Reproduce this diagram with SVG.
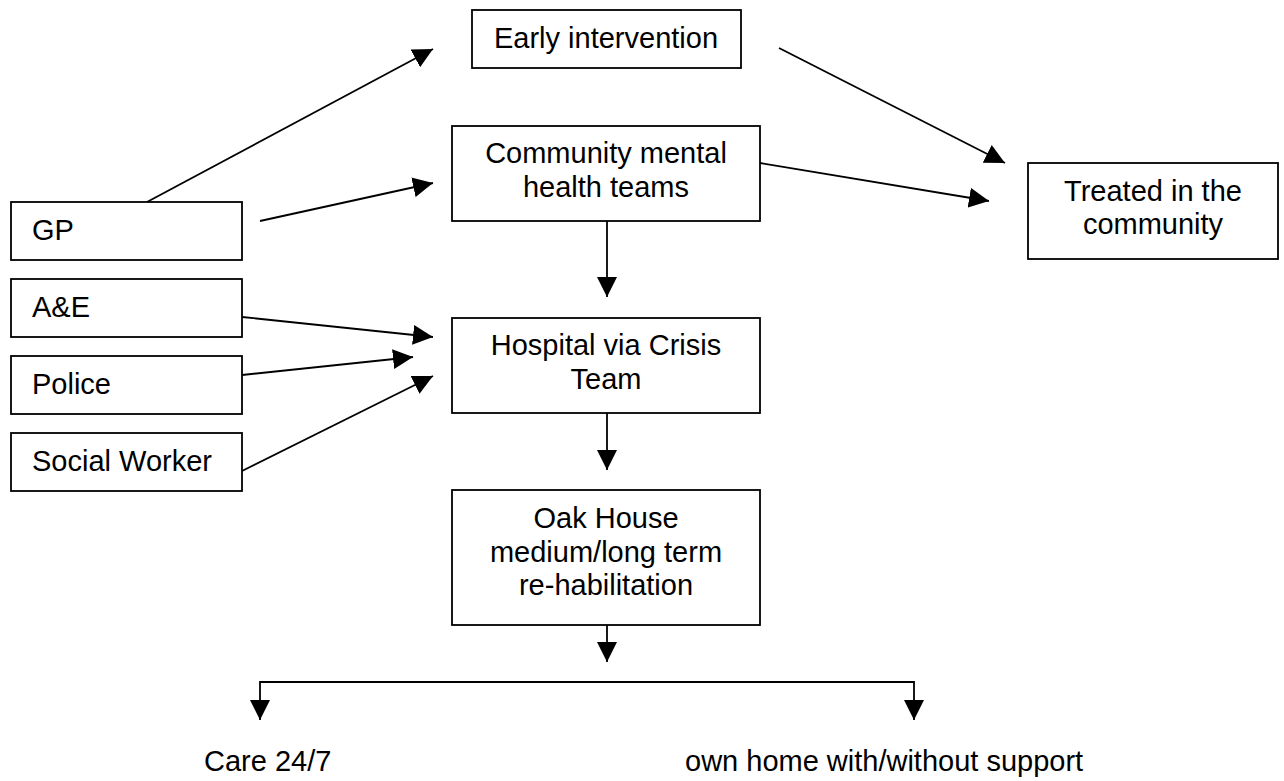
<svg xmlns="http://www.w3.org/2000/svg" width="1284" height="781" viewBox="0 0 1284 781">
<style>
.box{fill:#fff;stroke:#000;stroke-width:1.8}
.t{font-family:"Liberation Sans",Arial,sans-serif;font-size:29px;fill:#000}
.c{text-anchor:middle}
.con{fill:none;stroke:#000;stroke-width:1.8}
</style>
<defs>
<marker id="ah" markerUnits="userSpaceOnUse" markerWidth="20" markerHeight="20" refX="20" refY="10" orient="auto" viewBox="0 0 20 20">
<path d="M0,0 L20,10 L0,20 z" fill="#000"/>
</marker>
</defs>
<rect width="1284" height="781" fill="#fff"/>
<g id="connectors">
<line class="con" x1="147" y1="202" x2="433" y2="49" marker-end="url(#ah)"/>
<line class="con" x1="260" y1="221" x2="433" y2="183" marker-end="url(#ah)"/>
<line class="con" x1="242" y1="317" x2="433" y2="337" marker-end="url(#ah)"/>
<line class="con" x1="242" y1="375" x2="413" y2="357" marker-end="url(#ah)"/>
<line class="con" x1="242" y1="471" x2="433" y2="376" marker-end="url(#ah)"/>
<line class="con" x1="779" y1="48" x2="1005" y2="163" marker-end="url(#ah)"/>
<line class="con" x1="760" y1="163" x2="989" y2="201" marker-end="url(#ah)"/>
<line class="con" x1="607" y1="221" x2="607" y2="297" marker-end="url(#ah)"/>
<line class="con" x1="607" y1="413" x2="607" y2="470" marker-end="url(#ah)"/>
<line class="con" x1="607" y1="625" x2="607" y2="662" marker-end="url(#ah)"/>
<path class="con" d="M607,682 H260 V720" marker-end="url(#ah)"/>
<path class="con" d="M607,682 H914 V720" marker-end="url(#ah)"/>
</g>
<g id="early">
<rect class="box" x="472" y="10" width="269" height="58"/>
<text class="t c" x="606" y="48">Early intervention</text>
</g>
<g id="cmht">
<rect class="box" x="452" y="126" width="308" height="95"/>
<text class="t c" x="606" y="163">Community mental</text>
<text class="t c" x="606" y="197">health teams</text>
</g>
<g id="treated">
<rect class="box" x="1028" y="163" width="250" height="96"/>
<text class="t c" x="1153" y="201">Treated in the</text>
<text class="t c" x="1153" y="234">community</text>
</g>
<g id="gp">
<rect class="box" x="11" y="202" width="231" height="58"/>
<text class="t" x="32" y="240">GP</text>
</g>
<g id="ae">
<rect class="box" x="11" y="279" width="231" height="58"/>
<text class="t" x="32" y="317">A&amp;E</text>
</g>
<g id="police">
<rect class="box" x="11" y="356" width="231" height="58"/>
<text class="t" x="32" y="394">Police</text>
</g>
<g id="social">
<rect class="box" x="11" y="433" width="231" height="58"/>
<text class="t" x="32" y="471">Social Worker</text>
</g>
<g id="hospital">
<rect class="box" x="452" y="318" width="308" height="95"/>
<text class="t c" x="606" y="355">Hospital via Crisis</text>
<text class="t c" x="606" y="389">Team</text>
</g>
<g id="oak">
<rect class="box" x="452" y="490" width="308" height="135"/>
<text class="t c" x="606" y="528">Oak House</text>
<text class="t c" x="606" y="562">medium/long term</text>
<text class="t c" x="606" y="595">re-habilitation</text>
</g>
<g id="care">
<text class="t" x="204" y="771">Care 24/7</text>
</g>
<g id="home">
<text class="t" x="685" y="771">own home with/without support</text>
</g>
</svg>
